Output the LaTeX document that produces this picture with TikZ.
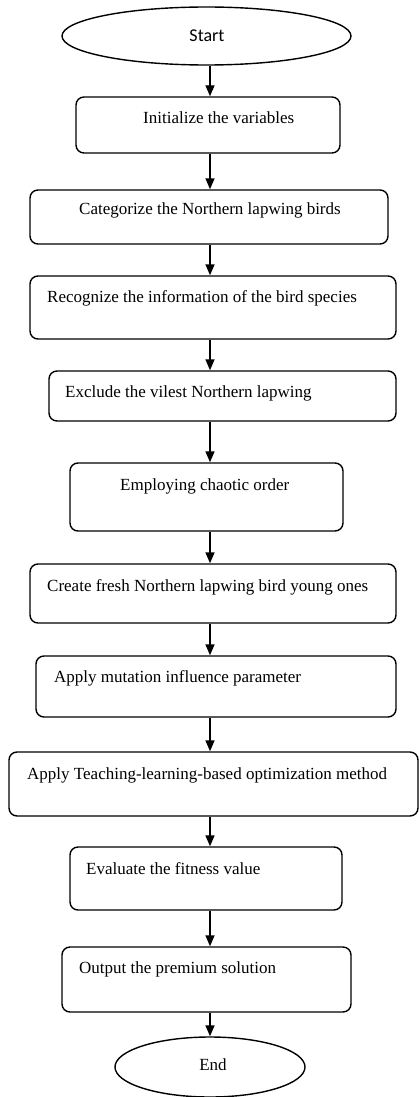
\documentclass[tikz,border=0pt]{standalone}
\usepackage{fontspec}
\setmainfont{Liberation Serif}
\newfontfamily\startfont{Carlito}
\usetikzlibrary{shapes.geometric,arrows.meta}
\begin{document}
\begin{tikzpicture}[x=1pt,y=-1pt,
  box/.style={draw, line width=1.4pt, rounded corners=8pt, rectangle, inner sep=0pt},
  oval/.style={draw, line width=1.4pt, ellipse, inner sep=0pt},
  txt/.style={inner sep=0pt, anchor=base west, font=\fontsize{17}{20}\selectfont},
  arr/.style={line width=1.4pt, -{Triangle[width=9pt,length=11pt]}}]
\useasboundingbox (0,0) rectangle (419,1097);
\coordinate (ax) at (210,0);
% Start
\node[oval, minimum width=289pt, minimum height=58pt] (s) at (206.5,36) {};
\node[inner sep=0pt, anchor=base, font=\startfont\fontsize{18}{20}\selectfont] (ts) at (207,42) {Start};
% boxes: center x, center y, width, height
\node[box, minimum width=264pt, minimum height=56pt] (b1) at (208,125) {};
\node[txt] (t1) at (143,124) {Initialize the variables};
\node[box, minimum width=358pt, minimum height=54pt] (b2) at (209,217) {};
\node[txt] (t2) at (79,214) {Categorize the Northern lapwing birds};
\node[box, minimum width=366pt, minimum height=63pt] (b3) at (213,307.5) {};
\node[txt] (t3) at (47,302) {Recognize the information of the bird species};
\node[box, minimum width=347pt, minimum height=50pt] (b4) at (222.5,396) {};
\node[txt] (t4) at (65,397) {Exclude the vilest Northern lapwing};
\node[box, minimum width=273pt, minimum height=68pt] (b5) at (206.5,497) {};
\node[txt] (t5) at (120,490) {Employing chaotic order};
\node[box, minimum width=366pt, minimum height=59pt] (b6) at (213,593.5) {};
\node[txt] (t6) at (47,591) {Create fresh Northern lapwing bird young ones};
\node[box, minimum width=360pt, minimum height=61pt] (b7) at (216,686.5) {};
\node[txt] (t7) at (54,682) {Apply mutation influence parameter};
\node[box, minimum width=409pt, minimum height=64pt] (b8) at (213.5,784) {};
\node[txt] (t8) at (27,779) {Apply Teaching-learning-based optimization method};
\node[box, minimum width=272pt, minimum height=63pt] (b9) at (206,878.5) {};
\node[txt] (t9) at (86,874) {Evaluate the fitness value};
\node[box, minimum width=289pt, minimum height=65pt] (b10) at (206.5,979.5) {};
\node[txt] (t10) at (79,973) {Output the premium solution};
% End
\node[oval, minimum width=190pt, minimum height=60pt] (e) at (210,1067) {};
\node[inner sep=0pt, anchor=base, font=\fontsize{17}{20}\selectfont] (te) at (213,1070) {End};
% arrows
\draw[arr] (s.south -| ax) -- (b1.north -| ax);
\draw[arr] (b1.south -| ax) -- (b2.north -| ax);
\draw[arr] (b2.south -| ax) -- (b3.north -| ax);
\draw[arr] (b3.south -| ax) -- (b4.north -| ax);
\draw[arr] (b4.south -| ax) -- (b5.north -| ax);
\draw[arr] (b5.south -| ax) -- (b6.north -| ax);
\draw[arr] (b6.south -| ax) -- (b7.north -| ax);
\draw[arr] (b7.south -| ax) -- (b8.north -| ax);
\draw[arr] (b8.south -| ax) -- (b9.north -| ax);
\draw[arr] (b9.south -| ax) -- (b10.north -| ax);
\draw[arr] (b10.south -| ax) -- (e.north -| ax);
\end{tikzpicture}
\end{document}
